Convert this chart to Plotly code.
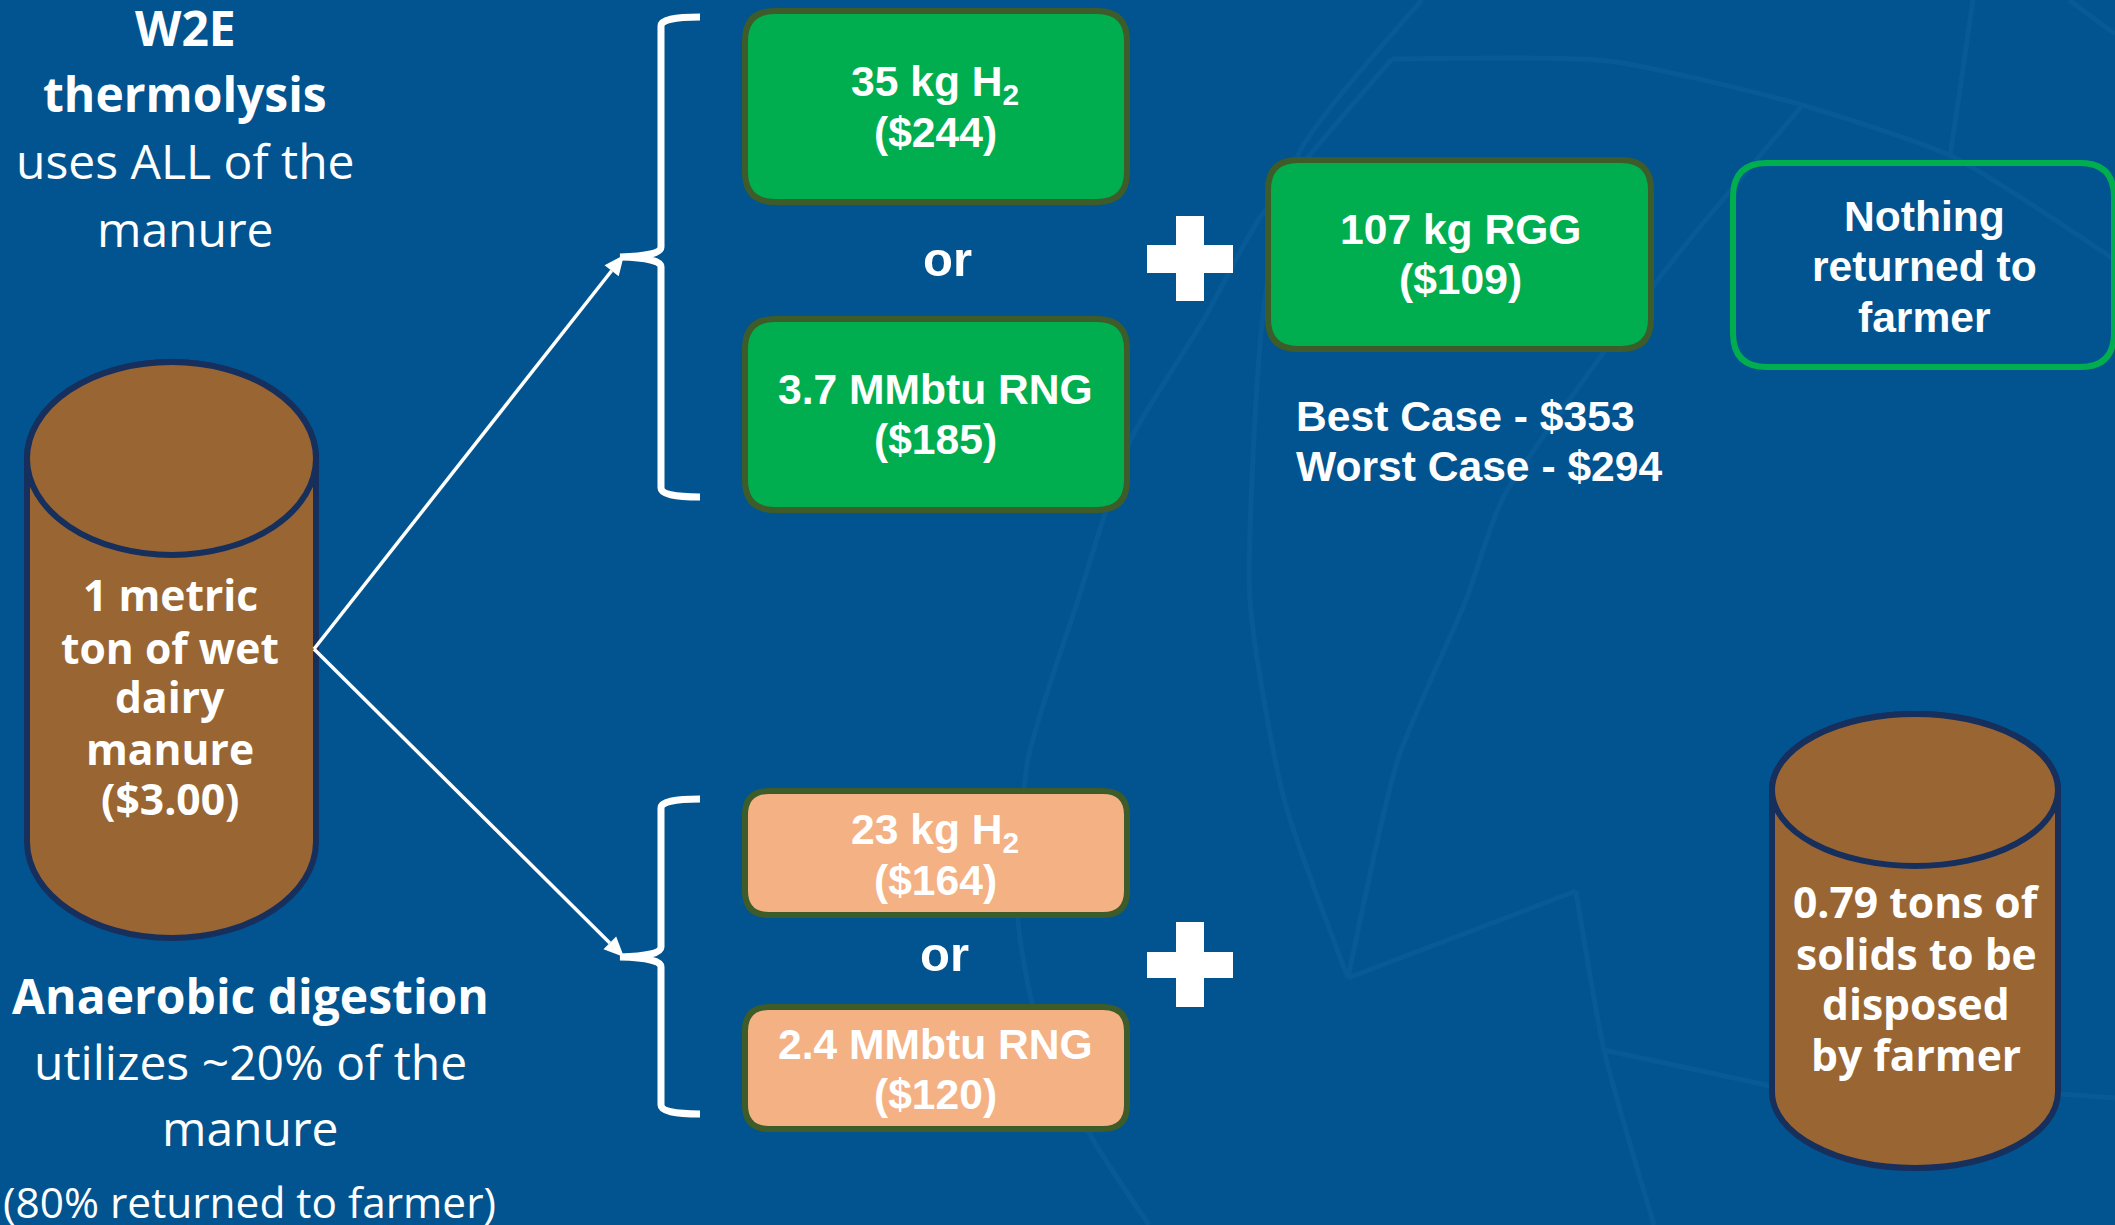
import math
import plotly.graph_objects as go

W, H = 2115, 1225
BG = "#01548F"; STREAK = "#075A96"; GREEN = "#00AE50"; GREEN_EDGE = "#3D5C2A"
PEACH = "#F4B183"; BROWN = "#996633"; NAVY = "#172F5C"; WHITE = "#FFFFFF"
ARIAL = "Liberation Sans"; OPEN = "Open Sans"

# Content
h2_best, rng_best, rgg_best = "35 kg H<sub>2</sub>", "3.7 MMbtu RNG", "107 kg RGG"
h2_best_val, rng_best_val, rgg_val = "($244)", "($185)", "($109)"
h2_ad, rng_ad = "23 kg H<sub>2</sub>", "2.4 MMbtu RNG"
h2_ad_val, rng_ad_val = "($164)", "($120)"
case_lines = ["Best Case - $353", "Worst Case - $294"]
nothing_lines = ["Nothing", "returned to", "farmer"]
w2e_bold = ["W2E", "thermolysis"]
w2e_regular = ["uses ALL of the", "manure"]
ad_regular = ["utilizes ~20% of the", "manure"]
manure_lines = ["1 metric", "ton of wet", "dairy", "manure", "($3.00)"]
solids_lines = ["0.79 tons of", "solids to be", "disposed", "by farmer"]

fig = go.Figure()

# faint background motif
streaks = [
    ([1422, 1299, 1264, 1250, 1284, 1348], [0, 153, 306, 600, 799, 978]),
    ([1392, 1261, 1203, 1131, 1078, 1028, 1018, 1036, 1092, 1149], [59, 216, 321, 439, 600, 759, 919, 1018, 1138, 1225]),
    ([1392, 1608, 1795, 1953, 2115], [59, 61, 103, 157, 260]),
    ([1801, 1667, 1503, 1466, 1398, 1348], [107, 268, 498, 600, 759, 978]),
    ([1973, 1950], [0, 157]),
    ([2069, 2115], [0, 34]),
    ([1348, 1576], [978, 891]),
    ([1576, 1604, 1654], [891, 1050, 1225]),
    ([1604, 1771], [1050, 1086]),
    ([2060, 2115], [1094, 1098]),
]
for xs, ys in streaks:
    fig.add_trace(go.Scatter(x=xs, y=ys, mode="lines", hoverinfo="skip", showlegend=False,
                             line=dict(color=STREAK, width=5, shape="spline", smoothing=0.6)))


def round_rect(x0, y0, x1, y1, r, fill, edge, width=6):
    p = (f"M{x0+r},{y0} L{x1-r},{y0} Q{x1},{y0} {x1},{y0+r} L{x1},{y1-r} Q{x1},{y1} {x1-r},{y1} "
         f"L{x0+r},{y1} Q{x0},{y1} {x0},{y1-r} L{x0},{y0+r} Q{x0},{y0} {x0+r},{y0} Z")
    fig.add_shape(type="path", path=p, fillcolor=fill, line=dict(color=edge, width=width))


def cylinder(x0, x1, top, lid_bottom, bottom):
    k = 0.5523
    rx = (x1 - x0) / 2
    ry = (lid_bottom - top) / 2
    cx = (x0 + x1) / 2
    mid = top + ry
    base = bottom - ry
    body = (f"M{x0},{mid} C{x0},{mid-k*ry} {cx-k*rx},{top} {cx},{top} C{cx+k*rx},{top} {x1},{mid-k*ry} {x1},{mid} "
            f"L{x1},{base} C{x1},{base+k*ry} {cx+k*rx},{bottom} {cx},{bottom} "
            f"C{cx-k*rx},{bottom} {x0},{base+k*ry} {x0},{base} Z")
    fig.add_shape(type="path", path=body, fillcolor=BROWN, line=dict(color=NAVY, width=6))
    fig.add_shape(type="circle", x0=x0, x1=x1, y0=top, y1=lid_bottom, fillcolor=BROWN,
                  line=dict(color=NAVY, width=6))


def brace(x_tip, x_spine, x_end, top, mid, bottom):
    p = (f"M{x_end},{top} Q{x_spine},{top} {x_spine},{top+9} L{x_spine},{mid-10} Q{x_spine},{mid-1} {x_tip},{mid} "
         f"Q{x_spine},{mid+1} {x_spine},{mid+10} L{x_spine},{bottom-9} Q{x_spine},{bottom} {x_end},{bottom}")
    fig.add_shape(type="path", path=p, line=dict(color=WHITE, width=7), fillcolor="rgba(0,0,0,0)")


def plus(x0, x1, xa, xb, y0, y1, ya, yb):
    p = (f"M{xa},{y0} L{xb},{y0} L{xb},{ya} L{x1},{ya} L{x1},{yb} L{xb},{yb} L{xb},{y1} "
         f"L{xa},{y1} L{xa},{yb} L{x0},{yb} L{x0},{ya} L{xa},{ya} Z")
    fig.add_shape(type="path", path=p, fillcolor=WHITE, line=dict(width=0))


def text(x, y, s, size, family=ARIAL, weight=700, anchor="center"):
    fig.add_annotation(x=x, y=y, text=s, showarrow=False, xanchor=anchor, yanchor="middle",
                       font=dict(family=family, size=size, color=WHITE, weight=weight))


def arrow(x0, y0, x1, y1, length=20, half=9):
    d = math.hypot(x1 - x0, y1 - y0)
    ux, uy = (x1 - x0) / d, (y1 - y0) / d
    bx, by = x1 - ux * length, y1 - uy * length
    fig.add_shape(type="line", x0=x0, y0=y0, x1=bx, y1=by, line=dict(color=WHITE, width=3.5))
    p = (f"M{x1},{y1} L{bx - uy * half},{by + ux * half} L{bx + uy * half},{by - ux * half} Z")
    fig.add_shape(type="path", path=p, fillcolor=WHITE, line=dict(width=0))


cylinder(27, 316, 362, 555, 938)
cylinder(1772, 2058, 714, 866, 1168)

round_rect(745, 11, 1127, 202, 30, GREEN, GREEN_EDGE)
round_rect(745, 319, 1127, 510, 30, GREEN, GREEN_EDGE)
round_rect(1268, 160, 1651, 349, 30, GREEN, GREEN_EDGE)
round_rect(1733, 163, 2114, 367, 34, "rgba(0,0,0,0)", GREEN)
round_rect(745, 791, 1127, 915, 24, PEACH, GREEN_EDGE)
round_rect(745, 1007, 1127, 1129, 24, PEACH, GREEN_EDGE)

brace(620, 661, 700, 17, 257, 497)
brace(620, 661, 700, 799, 957, 1114)
plus(1147, 1233, 1176, 1204, 216, 301, 245, 273)
plus(1147, 1233, 1176, 1204, 922, 1007, 952, 978)

arrow(314, 649, 624, 255)
arrow(314, 649, 624, 957)

BOX = 42.6
text(935, 84, h2_best, BOX); text(935, 132, h2_best_val, BOX)
text(935, 389, rng_best, BOX); text(935, 439, rng_best_val, BOX)
text(1460, 229, rgg_best, BOX); text(1460, 279, rgg_val, BOX)
text(935, 832, h2_ad, BOX); text(935, 880, h2_ad_val, BOX)
text(935, 1044, rng_ad, BOX); text(935, 1094, rng_ad_val, BOX)
text(947, 259, "or", 49); text(944, 954, "or", 49)
for y, s in zip([416, 466], case_lines):
    text(1294, y, s, BOX, anchor="left")
for y, s in zip([216, 266, 317], nothing_lines):
    text(1924, y, s, BOX)

for y, s in zip([27, 93], w2e_bold):
    text(185, y, s, 48, OPEN, 700)
for y, s in zip([160, 228], w2e_regular):
    text(185, y, s, 48, OPEN, 400)
text(250, 995, "Anaerobic digestion", 48, OPEN, 700)
for y, s in zip([1061, 1127], ad_regular):
    text(250, y, s, 48, OPEN, 400)
text(249, 1201, "(80% returned to farmer)", 42.4, OPEN, 400)
for y, s in zip([594, 647, 696, 748, 798], manure_lines):
    text(170, y, s, 42.6, OPEN, 700)
for y, s in zip([901, 953, 1003, 1054], solids_lines):
    text(1916, y, s, 42.6, OPEN, 700)

fig.update_layout(width=W, height=H, margin=dict(l=0, r=0, t=0, b=0), autosize=False,
                  plot_bgcolor=BG, paper_bgcolor=BG, showlegend=False,
                  xaxis=dict(range=[0, W], visible=False, fixedrange=True),
                  yaxis=dict(range=[H, 0], visible=False, fixedrange=True))
fig.write_html("out.html", config=dict(displayModeBar=False),
               post_script="document.body.style.margin='0';document.documentElement.style.background='#01548F';")
